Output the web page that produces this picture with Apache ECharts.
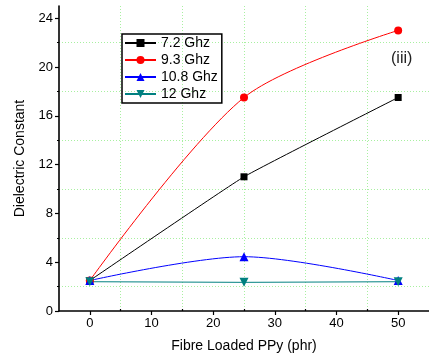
<!DOCTYPE html>
<html>
<head>
<meta charset="utf-8">
<script src="https://cdn.jsdelivr.net/npm/echarts@6/dist/echarts.min.js"></script>
<style>
  html, body { margin: 0; padding: 0; background: #fff; }
  #chart { width: 429px; height: 358px; }
</style>
</head>
<body>
<div id="chart"></div>
<script>
const FONT = "'Liberation Sans', Arial, sans-serif"

// data
const loading = [0, 25, 50]
const ghz72 = [2.5, 11.0, 17.5]
const ghz93 = [2.5, 17.5, 23.0]
const ghz108 = [2.5, 4.45, 2.5]
const ghz12 = [2.4, 2.35, 2.4]

const xLabels = [0, 10, 20, 30, 40, 50]
const xMinor = [5, 15, 25, 35, 45]
const yLabels = [0, 4, 8, 12, 16, 20, 24]
const yMinor = [2, 6, 10, 14, 18, 22]

const chart = echarts.init(document.getElementById("chart"))

const pairs = (ys) => loading.map((x, i) => [x, ys[i]])

const gridLine = {
  show: true,
  lineStyle: { color: "#a8f0a0", type: [1, 2], width: 1 },
}

const line = (name, ys, color, symbol, size, smooth, rotate) => ({
  name,
  type: "line",
  data: pairs(ys),
  smooth,
  symbol,
  symbolSize: size,
  symbolRotate: rotate || 0,
  lineStyle: { color, width: 1 },
  itemStyle: { color },
  emphasis: { disabled: true },
  z: 5,
})

const option = {
  animation: false,
  grid: { left: 59, right: -4, top: 6, bottom: 47 },
  legend: {
    orient: "vertical",
    left: 122,
    top: 34,
    selectedMode: false,
    itemWidth: 31,
    itemHeight: 10,
    itemGap: 3,
    padding: [2, 4, 2, 2],
    borderColor: "#000",
    borderWidth: 1.5,
    textStyle: { fontFamily: FONT, fontSize: 14, lineHeight: 14, color: "#000" },
    data: ["7.2 Ghz", "9.3 Ghz", "10.8 Ghz", "12 Ghz"],
  },
  xAxis: [
    {
      type: "value",
      min: -5,
      max: 55,
      name: "Fibre Loaded PPy (phr)",
      nameLocation: "middle",
      nameGap: 28,
      nameTextStyle: { fontFamily: FONT, fontSize: 14, color: "#000" },
      axisLine: { show: true, onZero: false, lineStyle: { color: "#000", width: 1.6 } },
      axisTick: { show: true, length: 4, customValues: xLabels, lineStyle: { color: "#000", width: 1.2 } },
      axisLabel: { customValues: xLabels, fontFamily: FONT, fontSize: 13, color: "#000", margin: 6 },
      splitLine: { show: false },
    },
    {
      type: "value",
      position: "bottom",
      min: -5,
      max: 55,
      axisLine: { show: false, onZero: false },
      axisTick: { show: true, inside: true, length: 2, customValues: xMinor, lineStyle: { color: "#000", width: 1.2 } },
      axisLabel: { show: false },
      splitLine: gridLine,
    },
  ],
  yAxis: [
    {
      type: "value",
      min: 0,
      max: 25,
      name: "Dielectric Constant",
      nameLocation: "middle",
      nameGap: 23,
      nameTextStyle: { fontFamily: FONT, fontSize: 14, color: "#000" },
      axisLine: { show: true, onZero: false, lineStyle: { color: "#000", width: 1.6 } },
      axisTick: { show: true, length: 4, customValues: yLabels, lineStyle: { color: "#000", width: 1.2 } },
      axisLabel: { customValues: yLabels, fontFamily: FONT, fontSize: 13, color: "#000", margin: 6 },
      splitLine: { show: false },
    },
    {
      type: "value",
      position: "left",
      min: 0,
      max: 25,
      axisLine: { show: false, onZero: false },
      axisTick: { show: true, length: 2, customValues: yMinor, lineStyle: { color: "#000", width: 1.2 } },
      axisLabel: { show: false },
      splitLine: gridLine,
    },
  ],
  graphic: [
    {
      type: "text",
      left: 391,
      top: 51,
      style: { text: "(iii)", fontFamily: FONT, fontSize: 16, fill: "#222" },
    },
  ],
  series: [
    line("7.2 Ghz", ghz72, "#000000", "rect", 7, 0.1),
    line("9.3 Ghz", ghz93, "#ff0000", "circle", 8, 0.3),
    line("10.8 Ghz", ghz108, "#0000ff", "triangle", 9, 0.3),
    line("12 Ghz", ghz12, "#008080", "triangle", 9, 0, 180),
  ],
}

chart.setOption(option)
</script>
</body>
</html>
